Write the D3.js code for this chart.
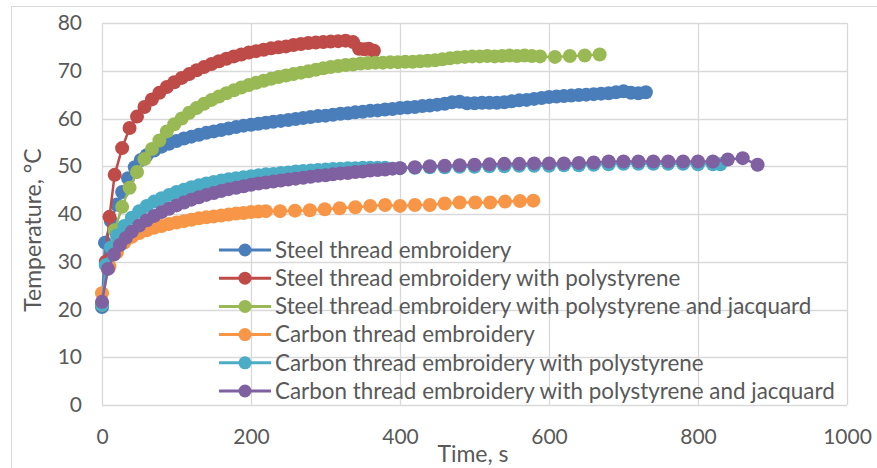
<!DOCTYPE html>
<html>
<head>
<meta charset="utf-8">
<script src="https://cdn.jsdelivr.net/npm/d3@7"></script>
<style>
  body { margin: 0; background: #fff; }
  svg text { font-family: Lato, "Open Sans", sans-serif; fill: #595959; }
</style>
</head>
<body>
<svg id="chart" width="877" height="468"></svg>
<script>
// time (s), temperature (C)
var steelData = [[0,20.5],[4,34],[12,38.5],[20,42],[27,44.6],[35,47.5],[44,49.8],[52,51.3],[60,52.3],[70,53.3],[80,54.1],[90,54.7],[100,55.3],[110,55.8],[120,56.2],[130,56.6],[140,57],[150,57.3],[160,57.6],[170,57.9],[180,58.2],[190,58.5],[200,58.7],[210,58.9],[220,59.1],[230,59.3],[240,59.5],[250,59.7],[260,59.9],[270,60.1],[280,60.3],[290,60.5],[300,60.6],[310,60.8],[320,61],[330,61.1],[340,61.3],[350,61.4],[360,61.6],[370,61.7],[380,61.9],[390,62],[400,62.2],[410,62.3],[420,62.4],[430,62.6],[440,62.7],[450,62.9],[460,63.1],[470,63.4],[480,63.5],[490,63.2],[500,63.2],[510,63.3],[520,63.3],[530,63.3],[540,63.4],[550,63.6],[560,63.8],[570,63.9],[580,64.1],[590,64.3],[600,64.5],[610,64.6],[620,64.7],[630,64.8],[640,64.9],[650,65],[660,65.1],[670,65.2],[680,65.3],[690,65.5],[700,65.7],[710,65.4],[720,65.3],[730,65.5]];
var steelPsData = [[0,21],[5,30],[10,39.4],[17,48.2],[27,53.8],[37,58],[47,60.4],[57,62.4],[67,64],[77,65.4],[87,66.6],[97,67.6],[107,68.5],[117,69.3],[127,70.1],[137,70.8],[147,71.4],[157,72],[167,72.5],[177,73],[187,73.4],[197,73.8],[207,74.1],[217,74.4],[227,74.7],[237,74.9],[247,75.1],[257,75.4],[267,75.6],[277,75.8],[287,75.9],[297,76],[307,76.1],[317,76.2],[327,76.3],[337,76],[345,74.6],[352,74.5],[358,74.6],[365,74.2]];
var steelPsJqData = [[0,21],[8,29],[17,36.6],[27,41.5],[37,45.5],[47,48.8],[57,51.5],[67,53.6],[77,55.4],[87,57.3],[97,58.8],[107,60],[117,61.2],[127,62.2],[137,63.1],[147,63.9],[157,64.6],[167,65.3],[177,65.9],[187,66.5],[197,67],[207,67.5],[217,67.9],[227,68.3],[237,68.7],[247,69],[257,69.3],[267,69.6],[277,69.9],[287,70.2],[297,70.5],[307,70.8],[317,71],[327,71.2],[337,71.3],[347,71.5],[357,71.6],[367,71.7],[377,71.7],[387,71.8],[397,71.8],[407,71.9],[417,71.9],[427,72],[437,72.1],[447,72.2],[457,72.4],[467,72.6],[477,72.8],[487,72.9],[497,73],[507,73],[517,73.1],[527,73],[537,73.1],[547,73.2],[557,73.1],[567,73.2],[577,73.1],[588,73],[608,72.9],[628,73.1],[648,73.2],[668,73.4]];
var carbonData = [[0,23.4],[10,29],[20,32],[30,34],[40,35.2],[50,36],[60,36.6],[70,37.1],[80,37.5],[90,37.9],[100,38.2],[110,38.5],[120,38.8],[130,39.1],[140,39.3],[150,39.5],[160,39.7],[170,39.9],[180,40.1],[190,40.2],[200,40.4],[210,40.5],[220,40.6],[239,40.6],[259,40.7],[279,40.8],[299,41],[319,41.2],[340,41.4],[360,41.7],[380,41.9],[400,41.7],[420,41.9],[440,41.9],[460,42.2],[480,42.4],[501,42.4],[521,42.4],[541,42.6],[561,42.7],[579,42.8]];
var carbonPsData = [[0,21],[5,29.3],[12,33],[20,35.5],[30,37.5],[40,39.2],[50,40.6],[60,41.7],[70,42.6],[80,43.3],[90,44],[100,44.6],[110,45.1],[120,45.6],[130,46],[140,46.4],[150,46.7],[160,47],[170,47.3],[180,47.5],[190,47.7],[200,47.9],[210,48.1],[220,48.3],[230,48.4],[240,48.6],[250,48.7],[260,48.9],[270,49],[280,49.1],[290,49.2],[300,49.3],[310,49.4],[320,49.5],[330,49.6],[340,49.6],[350,49.7],[360,49.7],[370,49.7],[380,49.7],[400,49.6],[420,49.7],[440,49.8],[460,49.8],[480,49.9],[500,49.9],[520,50],[540,50],[560,50.1],[580,50.1],[600,50.1],[620,50.2],[640,50.2],[660,50.3],[680,50.4],[700,50.5],[720,50.5],[740,50.5],[760,50.5],[780,50.5],[800,50.4],[820,50.4],[830,50.4]];
var carbonPsJqData = [[0,21.6],[8,28.5],[16,31.5],[24,33.5],[32,35],[40,36.3],[50,37.6],[60,38.7],[70,39.6],[80,40.4],[90,41.1],[100,41.8],[110,42.4],[120,43],[130,43.5],[140,44],[150,44.4],[160,44.8],[170,45.2],[180,45.5],[190,45.8],[200,46.1],[210,46.4],[220,46.6],[230,46.8],[240,47],[250,47.2],[260,47.4],[270,47.6],[280,47.8],[290,48],[300,48.1],[310,48.3],[320,48.5],[330,48.6],[340,48.8],[350,48.9],[360,49.1],[370,49.2],[380,49.3],[390,49.5],[400,49.6],[420,49.8],[440,50],[460,50.1],[480,50.2],[500,50.3],[520,50.4],[540,50.5],[560,50.5],[580,50.6],[600,50.6],[620,50.6],[640,50.7],[660,50.8],[680,51],[700,51],[720,51],[740,51],[760,51],[780,51],[800,51],[820,51],[840,51.4],[860,51.7],[880,50.3]];

var seriesNames = ["Steel thread embroidery", "Steel thread embroidery with polystyrene", "Steel thread embroidery with polystyrene and jacquard", "Carbon thread embroidery", "Carbon thread embroidery with polystyrene", "Carbon thread embroidery with polystyrene and jacquard"];
var seriesColors = ["#4a7ebb", "#be4b48", "#98b954", "#f79646", "#4bacc6", "#7f60a0"];
var xTicks = [0, 200, 400, 600, 800, 1000];
var yTicks = [0, 10, 20, 30, 40, 50, 60, 70, 80];

var allSeries = [steelData, steelPsData, steelPsJqData, carbonData, carbonPsData, carbonPsJqData];

var svg = d3.select("#chart");

// outer chart frame
svg.append("rect")
	.attr("x", 11.5).attr("y", 6.5)
	.attr("width", 900).attr("height", 500)
	.attr("fill", "none").attr("stroke", "#d9d9d9");

var x = d3.scaleLinear().domain([0, 1000]).range([102, 847]);
var y = d3.scaleLinear().domain([0, 80]).range([405, 23]);

// gridlines
svg.append("g").selectAll("line.h")
	.data(yTicks).enter().append("line")
	.attr("x1", x(0)).attr("x2", x(1000))
	.attr("y1", function(d) { return Math.round(y(d)) + 0.5; })
	.attr("y2", function(d) { return Math.round(y(d)) + 0.5; })
	.attr("stroke", "#d9d9d9").attr("stroke-width", 1.3);
svg.append("g").selectAll("line.v")
	.data(xTicks).enter().append("line")
	.attr("y1", y(0)).attr("y2", y(80))
	.attr("x1", function(d) { return Math.round(x(d)) + 0.5; })
	.attr("x2", function(d) { return Math.round(x(d)) + 0.5; })
	.attr("stroke", "#d9d9d9").attr("stroke-width", 1.3);

// axes (labels only, Excel style)
var yAxis = svg.append("g")
	.attr("transform", "translate(" + x(0) + ",0)")
	.call(d3.axisLeft(y).tickValues(yTicks).tickSize(0).tickPadding(20));
var xAxis = svg.append("g")
	.attr("transform", "translate(0," + y(0) + ")")
	.call(d3.axisBottom(x).tickValues(xTicks).tickFormat(d3.format("d")).tickSize(0).tickPadding(24));
[yAxis, xAxis].forEach(function(a) {
	a.select(".domain").remove();
	a.selectAll("text").attr("font-size", 21).attr("fill", "#595959")
		.style("font-family", "Lato, 'Open Sans', sans-serif");
});

svg.append("text")
	.attr("transform", "translate(41,230) rotate(-90)")
	.attr("text-anchor", "middle")
	.attr("font-size", 23)
	.text("Temperature, °C");
svg.append("text")
	.attr("x", 473).attr("y", 462)
	.attr("text-anchor", "middle")
	.attr("font-size", 23)
	.text("Time, s");

var line = d3.line()
	.x(function(d) { return x(d[0]); })
	.y(function(d) { return y(d[1]); });

// series
allSeries.forEach(function(data, i) {
	var g = svg.append("g").attr("class", "series");
	g.append("path")
		.datum(data)
		.attr("d", line)
		.attr("fill", "none")
		.attr("stroke", seriesColors[i])
		.attr("stroke-width", 2.5);
	g.selectAll("circle")
		.data(data).enter().append("circle")
		.attr("cx", function(d) { return x(d[0]); })
		.attr("cy", function(d) { return y(d[1]); })
		.attr("r", 7)
		.attr("fill", seriesColors[i]);
});

// legend
var legend = svg.append("g").attr("transform", "translate(219,250)");
var rows = legend.selectAll("g")
	.data(seriesNames).enter().append("g")
	.attr("transform", function(d, i) { return "translate(0," + (i * 28.2) + ")"; });
rows.append("line")
	.attr("x1", 0).attr("x2", 52)
	.attr("stroke", function(d, i) { return seriesColors[i]; })
	.attr("stroke-width", 3);
rows.append("circle")
	.attr("cx", 26).attr("r", 6.5)
	.attr("fill", function(d, i) { return seriesColors[i]; });
rows.append("text")
	.attr("x", 56).attr("dy", "0.35em")
	.attr("font-size", 22.4)
	.text(function(d) { return d; });
</script>
</body>
</html>
